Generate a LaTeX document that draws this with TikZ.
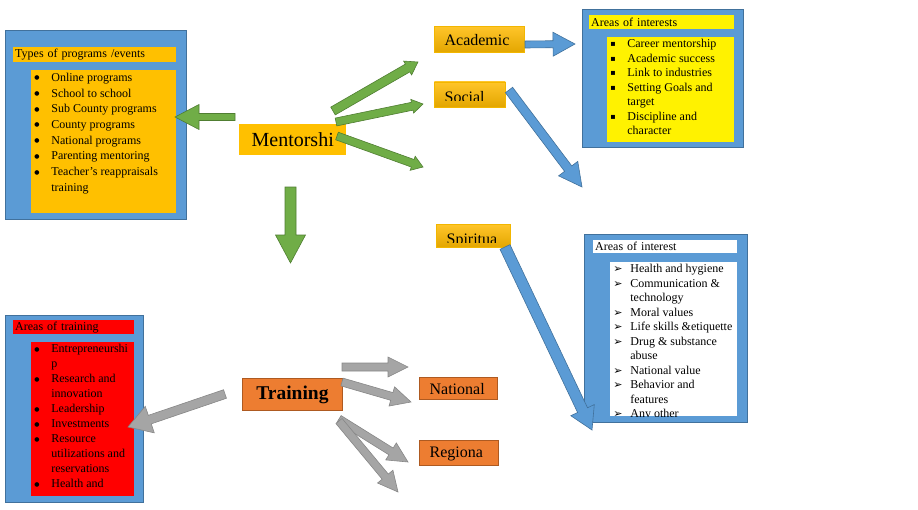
\documentclass[tikz,border=0pt]{standalone}
\usepackage{fontspec}
\setmainfont{Liberation Serif}
\newfontfamily\symfont{DejaVu Sans}
\usetikzlibrary{calc,positioning}

\definecolor{boxblue}{HTML}{5B9BD5}
\definecolor{boxline}{HTML}{41719C}
\definecolor{gold}{HTML}{FFC000}
\definecolor{goldtop}{HTML}{FFC52A}
\definecolor{goldbot}{HTML}{E3A600}
\definecolor{goldline}{HTML}{F2B600}
\definecolor{leaf}{HTML}{70AD47}
\definecolor{leafline}{HTML}{507E32}
\definecolor{ash}{HTML}{A5A5A5}
\definecolor{ashline}{HTML}{878787}
\definecolor{rust}{HTML}{ED7D31}
\definecolor{rustline}{HTML}{AE5A21}

\newcommand{\itm}[1]{\strut\makebox[20pt][l]{\hspace{3pt}#1}}
\newcommand{\bu}{\raisebox{1.5pt}{\symfont\fontsize{6}{7}\selectfont ●}}
\newcommand{\sq}{\raisebox{1pt}{\symfont\fontsize{8}{8}\selectfont ▪}}
\newcommand{\ar}{{\symfont\fontsize{11}{11}\selectfont ➢}}
% block arrow: style, from, to, half body, half head, head length
\newcommand{\blockarrow}[6]{%
  \coordinate (ah) at ($(#3)!#6!(#2)$);
  \draw[#1] ($(#2)!#4!90:(#3)$) -- ($(ah)!#4!90:(#3)$) -- ($(ah)!#5!90:(#3)$) -- (#3)
    -- ($(ah)!#5!-90:(#3)$) -- ($(ah)!#4!-90:(#3)$) -- ($(#2)!#4!-90:(#3)$) -- cycle;}

\begin{document}
\begin{tikzpicture}[x=1pt,y=-1pt,
    bluebox/.style={anchor=north west, fill=boxblue, draw=boxline, line width=0.8pt, inner sep=0pt},
    header/.style={anchor=north west, inner xsep=2pt, inner ysep=0pt, align=left, font=\fontsize{12}{14}\selectfont},
    itembox/.style 2 args={anchor=north west, inner sep=0pt,
      path picture={\node[anchor=north west, inner sep=0pt, minimum width=0pt, minimum height=0pt, align=left,
          font=\fontsize{12}{#1}\selectfont]
        at (path picture bounding box.north west) {#2};}},
    tag/.style={anchor=north west, inner sep=0pt, draw=goldline, line width=0.6pt, top color=goldtop, bottom color=goldbot},
    cutlabel/.style n args={3}{path picture={
      \clip ([yshift=#2]path picture bounding box.south west) rectangle (path picture bounding box.north east);
      \node[anchor=base west, inner sep=0pt, minimum width=0pt, minimum height=0pt, draw=none,
          font=\fontsize{16}{18}\selectfont]
        at ([xshift=10pt,yshift=#1]path picture bounding box.south west) {#3};}},
    leafarrow/.style={fill=leaf, draw=leafline, line width=0.6pt, line join=miter},
    skyarrow/.style={fill=boxblue, draw=boxline, line width=0.6pt, line join=miter},
    asharrow/.style={fill=ash, draw=ashline, line width=0.6pt, line join=miter}]
  \useasboundingbox (0,0) rectangle (918,509);

  % Define nodes
  \node[bluebox, minimum width=181pt, minimum height=189pt] (progBox) at (5,30) {};
  \node[header, fill=gold, text width=159pt, minimum height=15pt] (progHead) at (13,47) {Types of programs /events};
  \node[itembox={15.7}{\itm{\bu}Online programs\\ \itm{\bu}School to school\\ \itm{\bu}Sub County programs\\
      \itm{\bu}County programs\\ \itm{\bu}National programs\\ \itm{\bu}Parenting mentoring\\
      \itm{\bu}Teacher’s reappraisals\\ \itm{}training},
    fill=gold, minimum width=145pt, minimum height=143pt] (progList) at (31,70) {};

  \node[bluebox, minimum width=161pt, minimum height=138pt] (acaBox) at (582,9) {};
  \node[header, fill=yellow, text width=141pt, minimum height=14pt] (acaHead) at (589,15) {Areas of interests};
  \node[itembox={14.5}{\itm{\sq}Career mentorship\\ \itm{\sq}Academic success\\ \itm{\sq}Link to industries\\
      \itm{\sq}Setting Goals and\\ \itm{}target\\ \itm{\sq}Discipline and\\ \itm{}character},
    fill=yellow, minimum width=127pt, minimum height=105pt] (acaList) at (607,37) {};

  \node[bluebox, minimum width=163pt, minimum height=188pt] (socBox) at (584,234) {};
  \node[header, fill=white, text width=140pt, minimum height=13pt] (socHead) at (593,240) {Areas of interest};
  \node[itembox={14.5}{\itm{\ar}Health and hygiene\\ \itm{\ar}Communication \&\\ \itm{}technology\\
      \itm{\ar}Moral values\\ \itm{\ar}Life skills \&etiquette\\ \itm{\ar}Drug \& substance\\ \itm{}abuse\\
      \itm{\ar}National value\\ \itm{\ar}Behavior and\\ \itm{}features\\ \itm{\ar}Any other},
    fill=white, minimum width=127pt, minimum height=154pt] (socList) at (610,262) {};

  \node[bluebox, minimum width=138pt, minimum height=187pt] (trainBox) at (5,315) {};
  \node[header, fill=red, text width=117pt, minimum height=14pt] (trainHead) at (13,320) {Areas of training};
  \node[itembox={15}{\itm{\bu}Entrepreneurshi\\ \itm{}p\\ \itm{\bu}Research and\\ \itm{}innovation\\
      \itm{\bu}Leadership\\ \itm{\bu}Investments\\ \itm{\bu}Resource\\ \itm{}utilizations and\\
      \itm{}reservations\\ \itm{\bu}Health and},
    fill=red, minimum width=103pt, minimum height=154pt] (trainList) at (31,342) {};

  \node[anchor=north west, fill=gold, inner sep=0pt, minimum width=107pt, minimum height=31pt,
    font=\fontsize{20}{24}\selectfont] (mentor) at (239,124) {Mentorshi};
  \node[anchor=north west, fill=rust, draw=rustline, line width=0.8pt, inner sep=0pt, minimum width=100pt,
    minimum height=32pt, font=\fontsize{19.5}{23}\selectfont\bfseries] (training) at (242,378) {Training};

  \node[tag, cutlabel={7pt}{0pt}{Academic}, minimum width=90pt, minimum height=26pt] (academic) at (434,26) {};
  \node[tag, cutlabel={4.5pt}{6pt}{Social}, minimum width=71pt, minimum height=25pt,
    below=29pt of academic.south west, anchor=north west] (social) {};
  \node[tag, cutlabel={2.5pt}{4.5pt}{Spiritua}, minimum width=74pt, minimum height=23pt] (spiritual) at (436,224) {};
  \node[anchor=north west, fill=rust, draw=rustline, line width=0.6pt, inner sep=0pt,
    cutlabel={4.5pt}{6pt}{National}, minimum width=78pt, minimum height=22pt] (national) at (419,377) {};
  \node[anchor=north west, fill=rust, draw=rustline, line width=0.6pt, inner sep=0pt,
    cutlabel={7pt}{0pt}{Regiona}, minimum width=79pt, minimum height=25pt,
    below=40pt of national.south west, anchor=north west] (regional) {};

  % Arrow ends
  \coordinate (toProgS) at (235,117);   \coordinate (toProgE) at (175,117);
  \coordinate (toAcaS) at (333,111);    \coordinate (toAcaE) at (418,62);
  \coordinate (toSocS) at (336,122);    \coordinate (toSocE) at (423,104);
  \coordinate (toSpiS) at (337,136);    \coordinate (toSpiE) at (423,167);
  \coordinate (toTrainS) at (290.5,187); \coordinate (toTrainE) at (290.5,263);
  \coordinate (acaS) at (525,44.5);     \coordinate (acaE) at (575,44);
  \coordinate (socS) at (509,90);       \coordinate (socE) at (582,187);
  \coordinate (spiS) at (505,247);      \coordinate (spiE) at (592,430);
  \coordinate (areaS) at (225,394);     \coordinate (areaE) at (128,427);
  \coordinate (outAS) at (342,367);     \coordinate (outAE) at (408,367);
  \coordinate (outBS) at (342,382);     \coordinate (outBE) at (411,402);
  \coordinate (outCS) at (339,419);     \coordinate (outCE) at (408,462);
  \coordinate (outDS) at (339,421);     \coordinate (outDE) at (398,492);

  % Connect the nodes
  \blockarrow{leafarrow}{toProgS}{toProgE}{3.5pt}{12.5pt}{24pt}
  \blockarrow{leafarrow}{toAcaS}{toAcaE}{4.5pt}{8pt}{12pt}
  \blockarrow{leafarrow}{toSocS}{toSocE}{4pt}{7pt}{11pt}
  \blockarrow{leafarrow}{toSpiS}{toSpiE}{4pt}{7.5pt}{11pt}
  \blockarrow{leafarrow}{toTrainS}{toTrainE}{5.5pt}{15pt}{28pt}
  \blockarrow{skyarrow}{acaS}{acaE}{3.5pt}{12pt}{22pt}
  \blockarrow{skyarrow}{socS}{socE}{4.5pt}{12pt}{23pt}
  \blockarrow{skyarrow}{spiS}{spiE}{5.5pt}{13pt}{22pt}
  \blockarrow{asharrow}{areaS}{areaE}{4.5pt}{14pt}{23pt}
  \blockarrow{asharrow}{outAS}{outAE}{4pt}{10pt}{20pt}
  \blockarrow{asharrow}{outBS}{outBE}{4pt}{10pt}{20pt}
  \blockarrow{asharrow}{outCS}{outCE}{4pt}{10pt}{20pt}
  \blockarrow{asharrow}{outDS}{outDE}{4pt}{10pt}{20pt}
\end{tikzpicture}
\end{document}
